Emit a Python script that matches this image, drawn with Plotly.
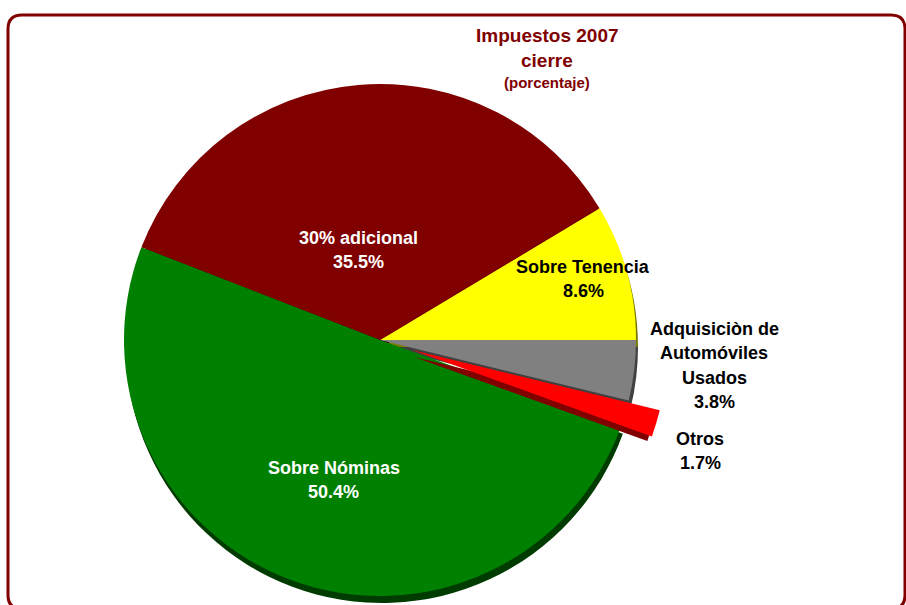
import math
import plotly.graph_objects as go

# ---------------- data ----------------
labels = ["Sobre Tenencia", "30% adicional", "Sobre Nóminas", "Otros",
          "Adquisiciòn de\nAutomóviles\nUsados"]
values = [8.6, 35.5, 50.4, 1.7, 3.8]
title_lines = ["Impuestos 2007", "cierre", "(porcentaje)"]

# ---------------- style ----------------
W, H = 906, 605
colors = ["#FFFF00", "#800000", "#008000", "#FF0000", "#808080"]
shadow_colors = ["#7a7a00", "#3c0000", "#003c00", "#800000", "#404040"]
text_colors = ["black", "white", "white", "black", "black"]
label_rf = [0.828, 0.362, 0.576, 1.324, 1.309]      # radial fraction of label centre
label_da = [1.2, 8.8, 2.3, -2.4, 2.5]               # angle nudge (deg)
pulled_index = 3
CX, CY, R = 380, 340, 256
PULL_DX, PULL_DY = 32, 10
SH_DX, SH_DY = 2, 7
TRANSP = "rgba(0,0,0,0)"
FONT = "Liberation Sans, Arial, sans-serif"
LINE_H = 24.5

total = sum(values)
# plotly's counterclockwise pies put the first slice clockwise of `rotation`;
# shift so the first slice starts at 3 o'clock and runs counterclockwise
ROTATION = 90 - 360 * values[0] / total


def dom(cx, cy, r):
    r = min(r, cx, W - cx, cy, H - cy)
    return dict(x=[(cx - r) / W, (cx + r) / W],
                y=[(H - cy - r) / H, (H - cy + r) / H])


def pie(cols, cx, cy):
    return go.Pie(
        labels=[l.replace("\n", " ") for l in labels], values=values,
        sort=False, direction="counterclockwise", rotation=ROTATION,
        marker=dict(colors=cols, line=dict(width=0)),
        textinfo="none", hoverinfo="skip", showlegend=False,
        domain=dom(cx, cy, R),
    )


main_cols = [c if i != pulled_index else TRANSP for i, c in enumerate(colors)]
pull_cols = [c if i == pulled_index else TRANSP for i, c in enumerate(colors)]
sh_main = [c if i != pulled_index else TRANSP for i, c in enumerate(shadow_colors)]
sh_pull = [c if i == pulled_index else TRANSP for i, c in enumerate(shadow_colors)]

fig = go.Figure()
fig.add_trace(pie(sh_main, CX + SH_DX, CY + SH_DY))
fig.add_trace(pie(main_cols, CX, CY))
fig.add_trace(pie(sh_pull, CX + PULL_DX + SH_DX, CY + PULL_DY + SH_DY))
fig.add_trace(pie(pull_cols, CX + PULL_DX, CY + PULL_DY))

# labels computed from the data angles
annotations = []
cum = 0.0
for i, (lab, v) in enumerate(zip(labels, values)):
    mid = (cum + v / 2) / total * 360 + label_da[i]
    cum += v
    a = math.radians(mid)
    lx = CX + label_rf[i] * R * math.cos(a)
    ly = CY - label_rf[i] * R * math.sin(a)
    lines = lab.split("\n") + [f"{v:.1f}%"]
    n = len(lines)
    for k, t in enumerate(lines):
        yk = ly + (k - (n - 1) / 2) * LINE_H
        annotations.append(dict(
            x=lx / W, y=(H - yk) / H, xref="paper", yref="paper",
            text=f"<b>{t}</b>", showarrow=False, xanchor="center", yanchor="middle",
            font=dict(family=FONT, size=18, color=text_colors[i]),
        ))

title_y = [35, 60, 82]
title_size = [19, 19, 15]
for t, y, s in zip(title_lines, title_y, title_size):
    annotations.append(dict(
        x=547 / W, y=(H - y) / H, xref="paper", yref="paper",
        text=f"<b>{t}</b>", showarrow=False, xanchor="center", yanchor="middle",
        font=dict(family=FONT, size=s, color="#800000"),
    ))

# rounded border (bottom edge runs just past the picture)
L, T, Rr, B, rad = 8, 15, 905, 609, 14
def px(x): return x / W
def py(y): return (H - y) / H
path = (f"M {px(L+rad)},{py(T)} L {px(Rr-rad)},{py(T)} "
        f"Q {px(Rr)},{py(T)} {px(Rr)},{py(T+rad)} "
        f"L {px(Rr)},{py(B-rad)} Q {px(Rr)},{py(B)} {px(Rr-rad)},{py(B)} "
        f"L {px(L+rad)},{py(B)} Q {px(L)},{py(B)} {px(L)},{py(B-rad)} "
        f"L {px(L)},{py(T+rad)} Q {px(L)},{py(T)} {px(L+rad)},{py(T)} Z")

fig.update_layout(
    width=W, height=H, margin=dict(l=0, r=0, t=0, b=0),
    paper_bgcolor="white", plot_bgcolor="white",
    annotations=annotations,
    shapes=[dict(type="path", path=path, xref="paper", yref="paper",
                 line=dict(color="#800000", width=3), layer="above")],
)

fig.write_html("out.html", config={"displayModeBar": False},
               post_script="document.body.style.margin='0';document.body.style.overflow='hidden';")
